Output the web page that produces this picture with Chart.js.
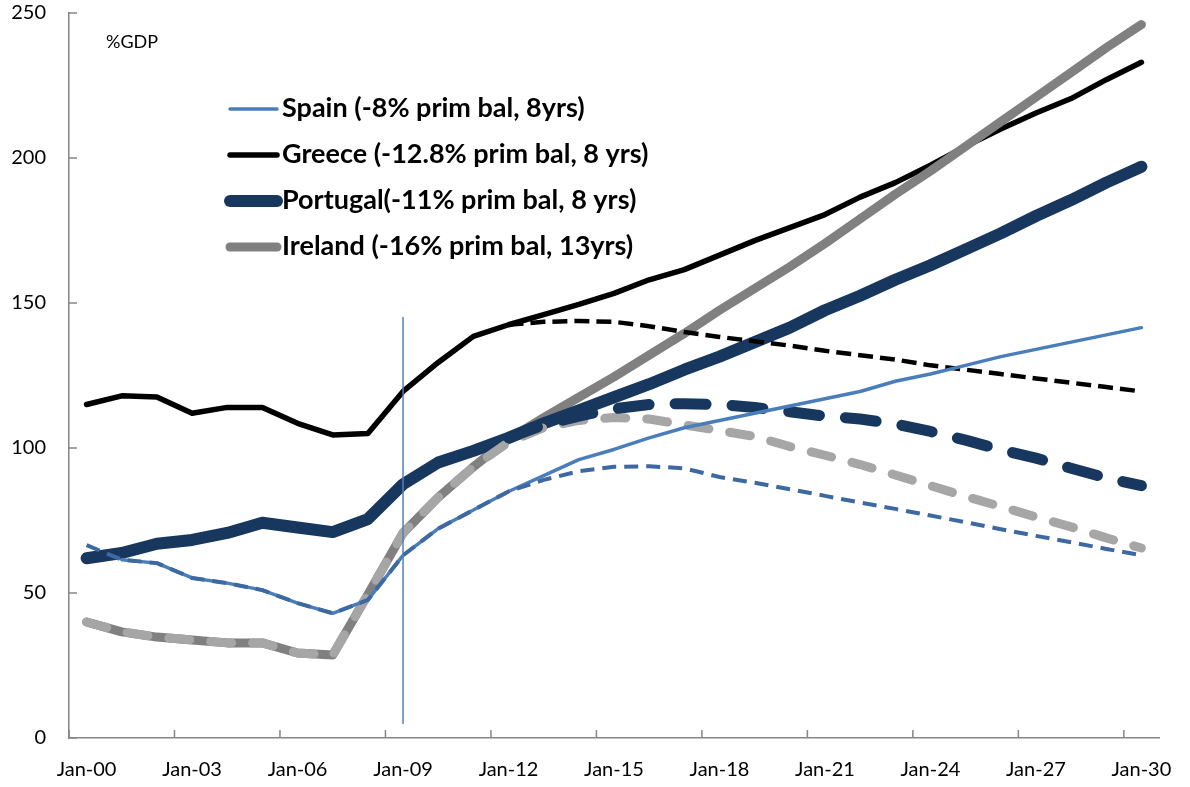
<!DOCTYPE html>
<html>
<head>
<meta charset="utf-8">
<script src="https://cdn.jsdelivr.net/npm/chart.js@4.4.0/dist/chart.umd.min.js"></script>
<style>
  body { margin: 0; background: #fff; }
</style>
</head>
<body>
<canvas id="debtChart" width="1190" height="787"></canvas>
<script>
// yearly points, Jan-00 .. Jan-30
var xLabels = ['Jan-00','Jan-01','Jan-02','Jan-03','Jan-04','Jan-05','Jan-06','Jan-07','Jan-08','Jan-09',
               'Jan-10','Jan-11','Jan-12','Jan-13','Jan-14','Jan-15','Jan-16','Jan-17','Jan-18','Jan-19',
               'Jan-20','Jan-21','Jan-22','Jan-23','Jan-24','Jan-25','Jan-26','Jan-27','Jan-28','Jan-29','Jan-30'];
var yTicks = [0, 50, 100, 150, 200, 250];

// debt, %GDP - with prolonged primary deficits (solid)
var spainDeficit    = [null, 61.5, 60.3, 55.2, 53.4, 51, 46.5, 43, 47.6, 63, 72.2, 78.6, 85, 90.5, 96, 99.5, 103.5, 107, 109.5, 112, 114.5, 117, 119.5, 123, 125.5, 128.5, 131.5, 134, 136.5, 139, 141.5];
var greeceDeficit   = [115, 118, 117.6, 112, 114, 114, 108.5, 104.5, 105, 119.5, 129.5, 138.5, 142.5, 146, 149.5, 153.3, 158, 161.5, 166.5, 171.5, 176, 180.5, 186.5, 191.5, 197.5, 204, 210, 215.5, 220.5, 227, 233];
var portugalDeficit = [62, 63.8, 67, 68.3, 70.7, 74.2, 72.6, 71, 75.5, 87.5, 95, 99, 103.5, 108.5, 113, 117.5, 122, 127, 131.5, 136.5, 141.5, 147.5, 152.5, 158, 163, 168.5, 174, 180, 185.5, 191.5, 197];
var irelandDeficit  = [40, 36.6, 34.8, 33.8, 32.8, 32.8, 29.3, 28.6, 49.5, 70.7, 83, 93.5, 103, 110.5, 117.5, 124.5, 132, 139.5, 147.5, 155, 162.5, 170.5, 179, 187.5, 195.5, 204, 212.5, 221, 229.5, 238, 246];

// baseline paths (dashed)
var spainBase    = [66.5, 61.5, 60.3, 55.2, 53.4, 51, 46.5, 43, 47.6, 63, 72.2, 78.6, 85, 89, 92, 93.5, 93.7, 93, 90, 88, 85.8, 83.5, 81.2, 79, 76.7, 74.4, 72, 69.7, 67.5, 65.2, 63];
var greeceBase   = [null, null, null, null, null, null, null, null, null, null, null, null, 142.5, 143.5, 143.8, 143.5, 142, 140, 138.3, 136.8, 135.3, 133.5, 132, 130.5, 128.5, 127, 125.5, 124, 122.5, 121, 119.5];
var portugalBase = [null, null, null, null, null, null, null, null, null, null, null, null, 103.5, 108, 111, 113.5, 115, 115.3, 115, 114, 112.5, 111, 110, 108.3, 105.7, 102.7, 99.4, 96.5, 93, 89.7, 87];
var irelandBase  = [40, 36.6, 34.8, 33.8, 32.8, 32.8, 29.3, 28.6, 49.5, 70.7, 83, 93.5, 102, 107, 109.5, 110.5, 110, 108, 106, 104, 100.5, 97.5, 94.3, 90.7, 87, 83.3, 79.8, 76.2, 72.8, 69, 65.5];

// marker line at Jan-09
var markerLabel = 'Jan-09';
var markerTop = 145;
var markerBottom = 5;

var legendNames = ['Spain (-8% prim bal, 8yrs)', 'Greece (-12.8% prim bal, 8 yrs)', 'Portugal(-11% prim bal, 8 yrs)', 'Ireland (-16% prim bal, 13yrs)'];

function lineSet(label, data, color, width, dash, order) {
  return {
    label: label,
    data: data,
    borderColor: color,
    backgroundColor: color,
    borderWidth: width,
    borderDash: dash || [],
    borderCapStyle: dash && width > 6 ? 'round' : (dash ? 'butt' : 'round'),
    borderJoinStyle: 'round',
    pointRadius: 0,
    tension: 0,
    fill: false,
    spanGaps: false,
    order: order
  };
}

var datasets = [
  lineSet(legendNames[0], spainDeficit, '#4A7EBB', 3.5, null, 2),
  lineSet(legendNames[1], greeceDeficit, '#000000', 5.5, null, 8),
  lineSet(legendNames[2], portugalDeficit, '#17375E', 12, null, 6),
  lineSet(legendNames[3], irelandDeficit, '#808080', 9, null, 7),
  lineSet('Spain base', spainBase, '#3D68A1', 4, [14, 8], 1),
  lineSet('Greece base', greeceBase, '#000000', 4.5, [15, 7], 5),
  lineSet('Portugal base', portugalBase, '#17375E', 11, [31, 26], 3),
  lineSet('Ireland base', irelandBase, '#A6A6A6', 9, [21, 21], 4),
  lineSet('marker', [{x: markerLabel, y: markerTop}, {x: markerLabel, y: markerBottom}], '#4F81BD', 1.5, null, 0)
];

const innerTicks = {
  id: 'innerTicks',
  afterDraw(chart) {
    const ctx = chart.ctx;
    const x = chart.scales.x, y = chart.scales.y;
    ctx.save();
    ctx.strokeStyle = '#868686';
    ctx.lineWidth = 1.5;
    ctx.beginPath();
    yTicks.forEach(function(v) {
      const py = y.getPixelForValue(v);
      ctx.moveTo(x.left, py);
      ctx.lineTo(x.left + 8, py);
    });
    for (let i = 0; i < xLabels.length; i += 3) {
      const px = x.getPixelForValue(i - 0.5);
      ctx.moveTo(px, y.bottom);
      ctx.lineTo(px, y.bottom - 8);
    }
    ctx.stroke();

    // unit label
    ctx.fillStyle = '#000';
    ctx.font = '18px Lato';
    ctx.textBaseline = 'alphabetic';
    ctx.fillText('%GDP', x.left + 37, 48);

    // legend, only the solid series
    ctx.font = 'bold 27px Lato';
    for (let i = 0; i < 4; i++) {
      const ds = chart.data.datasets[i];
      const base = 117 + i * 46;
      ctx.beginPath();
      ctx.strokeStyle = ds.borderColor;
      ctx.lineWidth = ds.borderWidth;
      ctx.lineCap = 'round';
      ctx.moveTo(230, base - 8);
      ctx.lineTo(277, base - 8);
      ctx.stroke();
      ctx.fillText(ds.label, 282, base);
    }
    ctx.restore();
  }
};

const chartEl = document.getElementById('debtChart');

let debtChart = new Chart(chartEl, {
  type: 'line',
  data: {
    labels: xLabels,
    datasets: datasets
  },
  options: {
    responsive: false,
    animation: false,
    layout: { padding: { top: 13, right: 31, left: 0, bottom: 0 } },
    plugins: {
      legend: { display: false },
      tooltip: { enabled: false }
    },
    scales: {
      x: {
        type: 'category',
        offset: true,
        grid: { display: true, drawOnChartArea: false, drawTicks: false, offset: true },
        border: { display: true, color: '#868686', width: 1.5 },
        ticks: {
          autoSkip: false,
          maxRotation: 0,
          padding: 20,
          color: '#000',
          font: { family: 'Lato', size: 20 },
          callback: function(val, idx) {
            return idx % 3 === 0 ? this.getLabelForValue(val) : '';
          }
        },
        afterFit: function(scale) {
          scale.height = 49;
          scale.paddingLeft = 0;
          scale.paddingRight = 0;
        }
      },
      y: {
        min: 0,
        max: 250,
        grid: { display: true, drawOnChartArea: false, drawTicks: false },
        border: { display: true, color: '#868686', width: 1.5 },
        ticks: {
          stepSize: 50,
          padding: 23,
          color: '#000',
          font: { family: 'Lato', size: 20 }
        },
        afterFit: function(scale) {
          scale.width = 69;
          scale.paddingTop = 0;
          scale.paddingBottom = 0;
        }
      }
    }
  },
  plugins: [innerTicks]
});
</script>
</body>
</html>
